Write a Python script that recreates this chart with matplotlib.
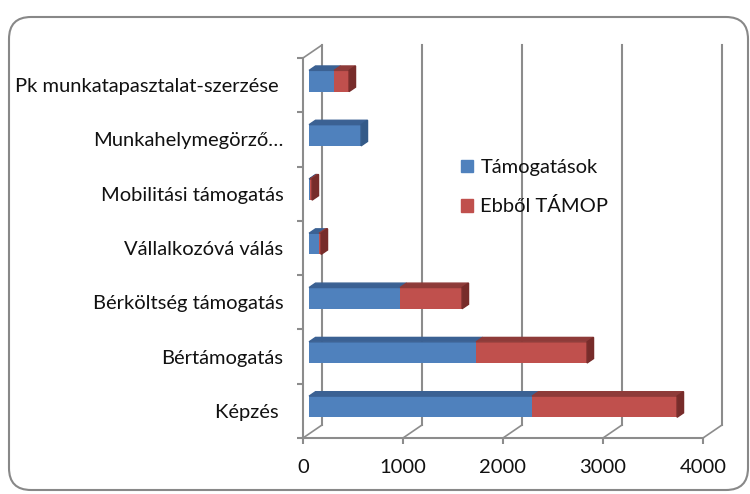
import matplotlib
matplotlib.use("Agg")
import matplotlib.pyplot as plt
from matplotlib.patches import Polygon, FancyBboxPatch, Patch
from matplotlib.transforms import IdentityTransform

plt.rcParams['font.family'] = ['Lato', 'DejaVu Sans']

# Data (bottom to top, as drawn)
categories = ["Képzés ", "Bértámogatás", "Bérköltség támogatás", "Vállalkozóvá válás",
              "Mobilitási támogatás", "Munkahelymegörző…", "Pk munkatapasztalat-szerzése "]
tamogatasok = [2230, 1670, 910, 100, 10, 520, 250]
tamop = [1450, 1110, 620, 20, 20, 0, 150]
series_names = ["Támogatások", "Ebből TÁMOP"]
x_ticks = [0, 1000, 2000, 3000, 4000]

# colours: front, top, side
blue = ("#4F81BD", "#3B6193", "#345A88")
red = ("#C0504D", "#8E3B39", "#772C2A")
grid_col = "#8C8C8C"

fig = plt.figure(figsize=(7.5, 4.94), dpi=100)
ax = fig.add_axes([303 / 750, 56 / 494, 400 / 750, 380 / 494])
ax.set_xlim(0, 4000)
ax.set_ylim(-0.5, 6.5)

# 3d depth of the plot box in data units
DX = 190
DY = 13 / (380 / 7)
f0, f1 = 0.32, 0.66
h = 0.39

# back wall gridlines and floor diagonals
for v in x_ticks:
    ax.plot([v + DX, v + DX], [-0.5 + DY, 6.5 + DY], color=grid_col, lw=1.5, zorder=1,
            clip_on=False)
    ax.plot([v, v + DX], [-0.5, -0.5 + DY], color=grid_col, lw=1.2, zorder=1, clip_on=False)
ax.plot([0, DX], [6.5, 6.5 + DY], color=grid_col, lw=1.2, zorder=1, clip_on=False)


def seg(start, length, i, cols, side):
    ax.barh(i + f0 * DY, length, left=start + f0 * DX, height=h, color=cols[0],
            zorder=3, clip_on=False)
    yt0 = i + f0 * DY + h / 2
    yt1 = i + f1 * DY + h / 2
    ax.add_patch(Polygon([(start + f0 * DX, yt0), (start + length + f0 * DX, yt0),
                          (start + length + f1 * DX, yt1), (start + f1 * DX, yt1)],
                         closed=True, color=cols[1], zorder=3, clip_on=False))
    if side:
        e = start + length
        ax.add_patch(Polygon([(e + f0 * DX, yt0 - h), (e + f0 * DX, yt0),
                              (e + f1 * DX, yt1), (e + f1 * DX, yt1 - h)],
                             closed=True, color=cols[2], zorder=3, clip_on=False))


for i in range(len(categories)):
    b, r = tamogatasok[i], tamop[i]
    seg(0, b, i, blue, r == 0)
    if r > 0:
        seg(b, r, i, red, True)

# front axes
for s in ["top", "right"]:
    ax.spines[s].set_visible(False)
for s in ["left", "bottom"]:
    ax.spines[s].set_color(grid_col)
    ax.spines[s].set_linewidth(1.5)
ax.set_xticks(x_ticks)
ax.set_xticklabels([str(t) for t in x_ticks])
ax.set_yticks(range(len(categories)))
ax.set_yticklabels(categories)
ax.set_yticks([k - 0.5 for k in range(len(categories) + 1)], minor=True)
ax.tick_params(axis="x", length=4, width=1.5, color=grid_col, pad=11, labelsize=14.5,
               labelcolor="#111111")
ax.tick_params(axis="y", which="major", length=0, pad=14, labelsize=14.5, labelcolor="#111111")
ax.tick_params(axis="y", which="minor", length=4.5, width=1.5, color=grid_col)
ax.set_facecolor("none")

handles = [Patch(color=blue[0]), Patch(color=red[0])]
fig.legend(handles, series_names, loc="upper left", bbox_to_anchor=(443 / 750, 1 - 141 / 494),
           frameon=False, fontsize=14.5, handlelength=0.6, handleheight=0.6,
           handletextpad=0.35, labelspacing=1.05, labelcolor="#111111")

# rounded chart border
border = FancyBboxPatch((9, 4), 739, 473, boxstyle="round,pad=0,rounding_size=22",
                        transform=IdentityTransform(), fill=False, edgecolor="#888888", lw=1.5)
fig.patches.append(border)

fig.savefig("out.png", dpi=100)
